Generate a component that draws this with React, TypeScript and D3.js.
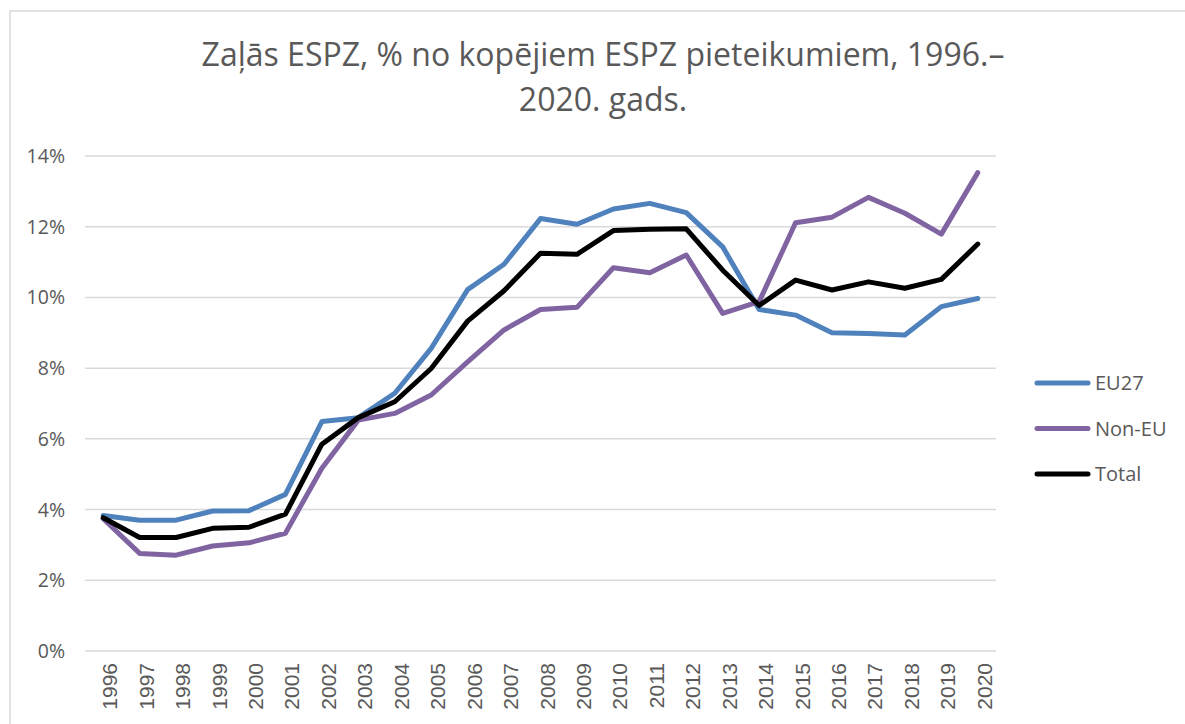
import React from "react";
import * as d3 from "d3";

const years = [
  "1996", "1997", "1998", "1999", "2000", "2001", "2002", "2003", "2004",
  "2005", "2006", "2007", "2008", "2009", "2010", "2011", "2012", "2013",
  "2014", "2015", "2016", "2017", "2018", "2019", "2020",
];

// shares in %
const eu27 = [
  3.83, 3.70, 3.70, 3.96, 3.97, 4.43, 6.49, 6.60, 7.29, 8.56, 10.22, 10.94,
  12.23, 12.07, 12.50, 12.66, 12.40, 11.43, 9.66, 9.50, 9.00, 8.98, 8.94,
  9.74, 9.97,
];
const nonEu = [
  3.74, 2.76, 2.71, 2.97, 3.06, 3.33, 5.17, 6.53, 6.72, 7.24, 8.18, 9.08,
  9.66, 9.72, 10.84, 10.70, 11.20, 9.55, 9.88, 12.11, 12.27, 12.83, 12.38,
  11.79, 13.53,
];
const total = [
  3.77, 3.21, 3.21, 3.47, 3.50, 3.87, 5.85, 6.60, 7.05, 7.99, 9.33, 10.19,
  11.25, 11.22, 11.89, 11.93, 11.94, 10.77, 9.77, 10.49, 10.21, 10.44, 10.26,
  10.51, 11.51,
];

const seriesNames = ["EU27", "Non-EU", "Total"];
const seriesColors = ["#4f81bd", "#8064a2", "#000000"];
const yTicks = [0, 2, 4, 6, 8, 10, 12, 14];
const titleLines = ["Zaļās ESPZ, % no kopējiem ESPZ pieteikumiem, 1996.–", "2020. gads."];

const W = 1185;
const H = 724;
const font = "'Open Sans', sans-serif";
const grey = "#595959";

export default function App() {
  const x = d3.scalePoint<string>().domain(years).range([85, 996]).padding(0.5);
  const y = d3.scaleLinear().domain([0, 14]).range([651, 156]);
  const line = d3
    .line<number>()
    .x((_, i) => x(years[i]) as number)
    .y((d) => y(d));
  const series = [eu27, nonEu, total];

  return (
    <svg
      width={W}
      height={H}
      style={{ position: "absolute", left: 0, top: 0, background: "#fff" }}
    >
      <rect x={10} y={11} width={W + 20} height={H + 20} fill="#fff" stroke="#d9d9d9" strokeWidth={1.5} />

      {titleLines.map((t, i) => (
        <text key={t} x={603} y={66 + i * 45} textAnchor="middle" fontFamily={font} fontSize={32} fill={grey}>
          {t}
        </text>
      ))}

      {yTicks.map((t) => (
        <g key={t}>
          <line x1={85} x2={996} y1={y(t)} y2={y(t)} stroke="#d9d9d9" strokeWidth={1.5} />
          <text x={65} y={y(t)} dy="0.36em" textAnchor="end" fontFamily={font} fontSize={19.5} fill={grey}>
            {t}%
          </text>
        </g>
      ))}

      {years.map((yr) => (
        <text
          key={yr}
          transform={`translate(${(x(yr) as number) + 14},663) rotate(-90)`}
          textAnchor="end"
          fontFamily="'Liberation Sans', Arial, sans-serif"
          fontSize={21}
          fill={grey}
        >
          {yr}
        </text>
      ))}

      {series.map((s, i) => (
        <path
          key={seriesNames[i]}
          d={line(s) ?? ""}
          fill="none"
          stroke={seriesColors[i]}
          strokeWidth={5}
          strokeLinejoin="round"
          strokeLinecap="round"
        />
      ))}

      {seriesNames.map((n, i) => {
        const ly = 383 + i * 45.5;
        return (
          <g key={n}>
            <line x1={1037} x2={1088} y1={ly} y2={ly} stroke={seriesColors[i]} strokeWidth={5} strokeLinecap="round" />
            <text x={1095} y={ly} dy="0.36em" fontFamily={font} fontSize={20} fill={grey}>
              {n}
            </text>
          </g>
        );
      })}
    </svg>
  );
}
